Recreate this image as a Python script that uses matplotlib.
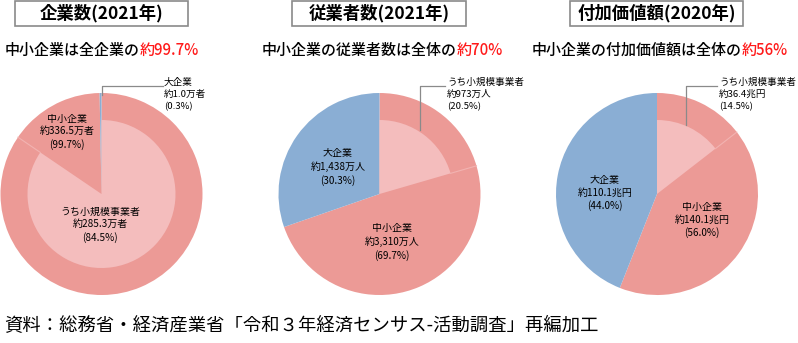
import matplotlib
matplotlib.use("Agg")
import numpy as np
import matplotlib.pyplot as plt
from matplotlib.patches import Rectangle

plt.rcParams["font.family"] = ["Noto Sans CJK JP", "DejaVu Sans"]

# data
titles = ["企業数(2021年)", "従業者数(2021年)", "付加価値額(2020年)"]
sub_black = ["中小企業は全企業の", "中小企業の従業者数は全体の", "中小企業の付加価値額は全体の"]
sub_red = ["約99.7%", "約70%", "約56%"]
sme_share = [99.7, 69.7, 56.0]
large_share = [0.3, 30.3, 44.0]
small_share = [84.5, 20.5, 14.5]
sme_labels = ["中小企業\n約336.5万者\n(99.7%)", "中小企業\n約3,310万人\n(69.7%)", "中小企業\n約140.1兆円\n(56.0%)"]
large_labels = ["大企業\n約1.0万者\n(0.3%)", "大企業\n約1,438万人\n(30.3%)", "大企業\n約110.1兆円\n(44.0%)"]
small_labels = ["うち小規模事業者\n約285.3万者\n(84.5%)", "うち小規模事業者\n約973万人\n(20.5%)", "うち小規模事業者\n約36.4兆円\n(14.5%)"]
footer = "資料：総務省・経済産業省「令和３年経済センサス-活動調査」再編加工"

PINK = "#EC9A96"
LIGHT = "#F4BDBD"
BLUE = "#8AAED4"
RED = "#FF1A1A"
GRAY = "#8a8a8a"

W, H = 798, 343
R, R_IN = 101, 74

# layout (pixels from top-left)
centers = [(101.5, 194), (379.5, 194), (657, 194)]
title_boxes = [(15, 188), (292, 466), (570, 743)]
sub_x = [5, 262, 532]
sme_pos = [(67, 132), (392, 242), (702, 220)]
large_pos = [None, (338, 167), (605, 193)]
small_pos = [(100, 225), None, None]
# callouts: (line points, text xy, label)
callouts = [
    ([(101.5, 95), (101.5, 86), (163, 86)], (164, 78), large_labels[0]),
    ([(420, 130), (420, 86), (445, 86)], (447, 78), small_labels[1]),
    ([(686, 125), (686, 86), (717, 86)], (719, 78), small_labels[2]),
]

fig = plt.figure(figsize=(7.98, 3.43), dpi=100)
ax = fig.add_axes([0, 0, 1, 1])

for i in range(3):
    cx, cy = centers[i]
    cyu = H - cy
    ax.pie([sme_share[i], large_share[i]], colors=[PINK, BLUE], radius=R,
           center=(cx, cyu), startangle=90, counterclock=False, frame=True,
           wedgeprops=dict(linewidth=0))
    ax.pie([small_share[i], 100 - small_share[i]], colors=[LIGHT, "none"], radius=R_IN,
           center=(cx, cyu), startangle=90, counterclock=False, frame=True,
           wedgeprops=dict(linewidth=0))
    a = np.deg2rad(90 - small_share[i] * 3.6)
    ax.plot([cx + R_IN * np.cos(a), cx + R * np.cos(a)],
            [cyu + R_IN * np.sin(a), cyu + R * np.sin(a)], color="#F2B3B1", lw=0.8)

    # title box
    x0, x1 = title_boxes[i]
    ax.add_patch(Rectangle((x0, H - 26), x1 - x0, 25, facecolor="white",
                           edgecolor=GRAY, lw=1.2))
    ax.text((x0 + x1) / 2, H - 13.5, titles[i], ha="center", va="center",
            fontsize=12.5, fontweight="bold")

    # subtitle in two colours
    t = ax.text(sub_x[i], H - 50, sub_black[i], ha="left", va="center",
                fontsize=10.8, fontweight="medium")
    ax.annotate(sub_red[i], xy=(1, 0), xycoords=t, ha="left", va="bottom",
                fontsize=10.8, fontweight="medium", color=RED)

    # inner labels
    lx, ly = sme_pos[i]
    ax.text(lx, H - ly, sme_labels[i], ha="center", va="center", fontsize=7.2,
            linespacing=1.35)
    if large_pos[i]:
        lx, ly = large_pos[i]
        ax.text(lx, H - ly, large_labels[i], ha="center", va="center", fontsize=7.2,
                linespacing=1.35)
    if small_pos[i]:
        lx, ly = small_pos[i]
        ax.text(lx, H - ly, small_labels[i], ha="center", va="center", fontsize=7.2,
                linespacing=1.35)

for pts, (tx, ty), lab in callouts:
    ax.plot([p[0] for p in pts], [H - p[1] for p in pts], color=GRAY, lw=0.9)
    ax.text(tx, H - ty, lab, ha="left", va="top", fontsize=6.9, linespacing=1.4)

ax.text(4, H - 326, footer, ha="left", va="center", fontsize=13.2)

ax.set_xlim(0, W)
ax.set_ylim(0, H)
ax.set_aspect("equal")
ax.axis("off")

fig.savefig("out.png", dpi=100)
